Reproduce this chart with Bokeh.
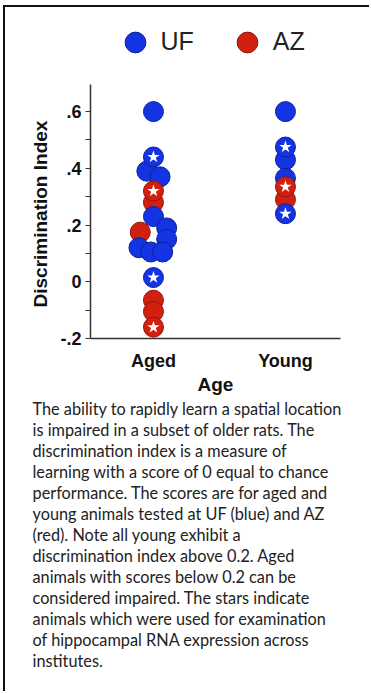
from bokeh.plotting import figure
from bokeh.models import Range1d, FixedTicker, ColumnDataSource, Legend, LegendItem, Title
from bokeh.embed import file_html
from bokeh.resources import INLINE

# ---------------- data ----------------
categories = ["Aged", "Young"]
category_pos = [0, 1]

# UF (blue)
uf_group = ["Aged"] * 11 + ["Young"] * 5
uf_jitter = [0, 0, -0.05, 0.05, 0, 0.1, 0.1, -0.11, -0.02, 0.07, 0, 0, 0, 0, 0, 0]
uf_di = [0.60, 0.44, 0.39, 0.37, 0.23, 0.19, 0.15, 0.12, 0.105, 0.105, 0.015,
         0.60, 0.475, 0.43, 0.365, 0.24]
uf_star = [0, 1, 0, 0, 0, 0, 0, 0, 0, 0, 1, 0, 1, 0, 0, 1]

# AZ (red)
az_group = ["Aged"] * 6 + ["Young"] * 2
az_jitter = [0, 0, -0.1, 0, 0, 0, 0, 0]
az_di = [0.32, 0.28, 0.175, -0.065, -0.105, -0.16, 0.335, 0.29]
az_star = [1, 0, 0, 0, 0, 1, 1, 0]

sites = ["UF", "AZ"]

y_axis_min, y_axis_max = -0.2, 0.695
y_ticks = [-0.2, 0, 0.2, 0.4, 0.6]
y_tick_labels = ["-.2", "0", ".2", ".4", ".6"]
y_minor_ticks = [-0.1, 0.1, 0.3, 0.5]

caption_lines = [
    "The ability to rapidly learn a spatial location",
    "is impaired  in a subset of older rats. The",
    "discrimination  index is a measure of",
    "learning with a score of 0 equal to chance",
    "performance. The scores are for aged and",
    "young animals tested at UF (blue)  and AZ",
    "(red). Note all young exhibit  a",
    "discrimination  index above 0.2. Aged",
    "animals with scores below 0.2 can be",
    "considered impaired. The stars indicate",
    "animals which were used for examination",
    "of hippocampal  RNA expression across",
    "institutes.",
]

BLUE = "#1434e4"
BLUE_EDGE = "#0c1f9a"
RED = "#d2200f"
RED_EDGE = "#8f1408"

FONT = "Liberation Sans"
pos_of = dict(zip(categories, category_pos))


def subset(group, jitter, di, star, flag):
    xs, ys = [], []
    for g, j, d, s in zip(group, jitter, di, star):
        if s == flag:
            xs.append(pos_of[g] + j)
            ys.append(d)
    return ColumnDataSource(dict(x=xs, y=ys))


# frame reaches up to the top so the legend sits inside it; the axis line is bounded
p = figure(width=366, height=686, output_backend="svg", toolbar_location=None,
           x_range=Range1d(-0.477, 1.417), y_range=Range1d(y_axis_min, 0.967),
           min_border_left=85, min_border_right=31, min_border_top=0, min_border_bottom=355)
p.styles = {"margin-left": "3px", "margin-top": "5px",
            "border-left": "2px solid #111", "border-top": "2px solid #111"}
p.outline_line_color = None
p.grid.visible = False
p.background_fill_color = "white"
p.border_fill_color = "white"

SZ = 20
r_az = p.scatter("x", "y", source=subset(az_group, az_jitter, az_di, az_star, 0), size=SZ,
                 fill_color=RED, line_color=RED_EDGE, line_width=1)
r_uf = p.scatter("x", "y", source=subset(uf_group, uf_jitter, uf_di, uf_star, 0), size=SZ,
                 fill_color=BLUE, line_color=BLUE_EDGE, line_width=1)
uf_s = subset(uf_group, uf_jitter, uf_di, uf_star, 1)
az_s = subset(az_group, az_jitter, az_di, az_star, 1)
p.scatter("x", "y", source=uf_s, size=SZ, fill_color=BLUE, line_color=BLUE_EDGE, line_width=1)
p.scatter("x", "y", source=az_s, size=SZ, fill_color=RED, line_color=RED_EDGE, line_width=1)
p.scatter("x", "y", source=uf_s, marker="star", size=13, fill_color="white", line_color=None)
p.scatter("x", "y", source=az_s, marker="star", size=13, fill_color="white", line_color=None)

for ax in (p.xaxis[0], p.yaxis[0]):
    ax.axis_line_width = 1.5
    ax.axis_line_color = "#333"
    ax.major_label_text_font = FONT
    ax.major_label_text_font_style = "bold"
    ax.major_label_text_font_size = "18px"
    ax.major_label_text_color = "#111"
    ax.axis_label_text_font = FONT
    ax.axis_label_text_font_style = "bold"
    ax.axis_label_text_font_size = "19px"
    ax.axis_label_text_color = "#111"

p.yaxis.bounds = (y_axis_min, y_axis_max)
p.yaxis.ticker = FixedTicker(ticks=y_ticks, minor_ticks=y_minor_ticks)
p.yaxis.major_label_overrides = dict(zip(y_ticks, y_tick_labels))
p.yaxis.major_tick_out = 5
p.yaxis.major_tick_in = 0
p.yaxis.minor_tick_out = 5
p.yaxis.minor_tick_in = 0
p.yaxis.major_tick_line_color = "#333"
p.yaxis.minor_tick_line_color = "#333"
p.yaxis.major_label_standoff = 4

# y-axis title, placed in the left panel so it can be centred on the bounded axis
p.add_layout(Title(text="Discrimination Index", align="left", offset=31, standoff=12,
                   vertical_align="middle", text_font=FONT, text_font_style="bold",
                   text_font_size="19px", text_color="#111"), "left")

p.xaxis.ticker = FixedTicker(ticks=category_pos, minor_ticks=[])
p.xaxis.major_label_overrides = dict(zip(category_pos, categories))
p.xaxis.major_tick_out = 0
p.xaxis.major_tick_in = 0
p.xaxis.major_tick_line_color = None
p.xaxis.minor_tick_line_color = None
p.xaxis.major_label_standoff = 12
p.xaxis.axis_label = "Age"
p.xaxis.axis_label_standoff = 0

legend = Legend(items=[LegendItem(label=sites[0], renderers=[r_uf]),
                       LegendItem(label=sites[1], renderers=[r_az])],
                orientation="horizontal", location=(18.5, 270.5),
                glyph_width=52, glyph_height=52, label_standoff=0, spacing=27,
                padding=0, margin=0, border_line_color=None, background_fill_alpha=0,
                label_text_font=FONT, label_text_font_size="25px", label_text_color="#222")
p.add_layout(legend)

for line in caption_lines:
    p.add_layout(Title(text=line, align="left", offset=-58, standoff=0,
                       vertical_align="middle",
                       text_font="Lato", text_font_size="16.3px", text_font_style="normal",
                       text_color="#222"), "below")

open("out.html", "w").write(file_html(p, INLINE))
